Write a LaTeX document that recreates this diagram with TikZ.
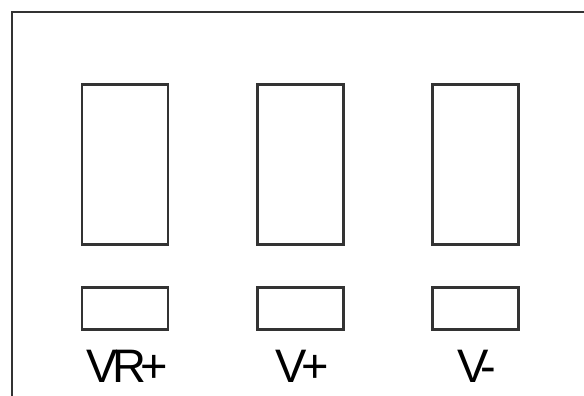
\documentclass[tikz,border=0pt]{standalone}
\usepackage{fontspec}
\setmainfont{Liberation Sans}
\usepackage{tikz}
\usetikzlibrary{positioning}
\tikzset{
  padbox/.style={draw=black!80, line width=2.2pt, inner sep=0pt, minimum width=86pt},
  padlabel/.style={inner sep=0pt, anchor=base, font=\fontsize{47}{47}\selectfont\addfontfeatures{LetterSpace=-12}}
}

\begin{document}
\begin{tikzpicture}[x=1pt, y=-1pt]
\useasboundingbox (0, 0) rectangle (584, 396);
%%% The frame round the pads
\draw[black!80, line width=2.2pt] (584, 12) -- (12, 12) -- (12, 396);
%%% The big pads
\node[padbox, minimum height=160pt] (padvr) at (125, 164.5) {};
\node[padbox, minimum height=160pt] (padvp) at (300.5, 164.5) {};
\node[padbox, minimum height=160pt] (padvm) at (475.5, 164.5) {};
%%% The small pads
\node[padbox, minimum height=42pt] (smallvr) at (125, 308.5) {};
\node[padbox, minimum height=42pt] (smallvp) at (300.5, 308.5) {};
\node[padbox, minimum height=42pt] (smallvm) at (475.5, 308.5) {};
%%% The labels
\node[padlabel] (labvr) at (127, 382) {VR+};
\node[padlabel] (labvp) at (302, 382) {V+};
\node[padlabel] (labvm) at (477, 382) {V-};
\end{tikzpicture}
\end{document}
